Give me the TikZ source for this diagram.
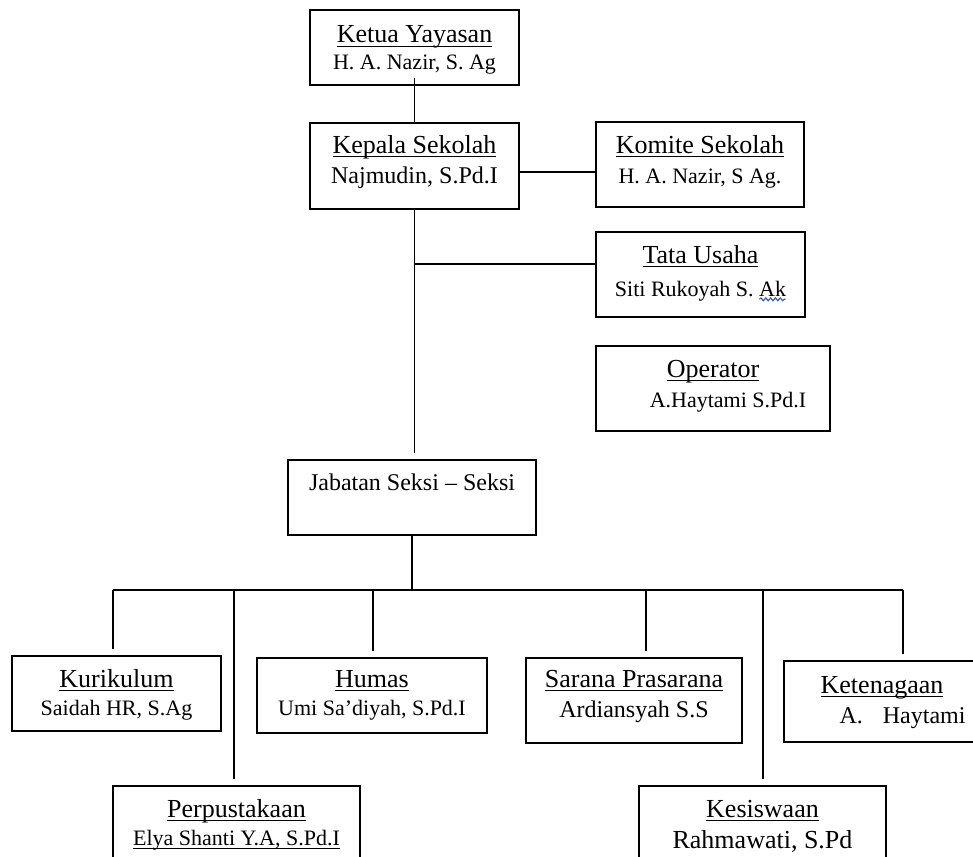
\documentclass[tikz,border=0pt]{standalone}
\usepackage{fontspec}
\setmainfont{Liberation Serif}
\usepackage{tikz}
\usetikzlibrary{positioning, calc, decorations.pathmorphing}
\definecolor{SpellBlue}{RGB}{60, 90, 200}
\newcommand{\undl}[1]{\leavevmode\setbox0\hbox{#1}\dp0=0pt\vtop{\box0\kern1.6pt\hrule height0.6pt}}
\newcommand{\nm}[1]{{\fontsize{11}{13}\selectfont #1}}
\newcommand{\nmb}[1]{{\fontsize{12}{14}\selectfont #1}}
\tikzset{
  lead/.style={font=\fontsize{13}{#1}\selectfont},
  unit/.style={rectangle, draw, line width=0.9pt, fill=white, align=center,
    inner xsep=2pt, inner ysep=0pt, text height=30.5pt, text depth=12pt, lead=15pt},
  short/.style={unit, text height=29.5pt, text depth=8pt, lead=14pt},
  link/.style={line width=0.9pt},
  drop/.style={link, shorten >=3pt},
  spell/.style={SpellBlue, line width=0.6pt, decorate,
    decoration={snake, amplitude=0.7pt, segment length=2.4pt}},
}

\begin{document}
\begin{tikzpicture}[x=0.5pt, y=-0.5pt]
    \useasboundingbox (0,0) rectangle (973,856);
    \clip (0,0) rectangle (973,856);
    \node[short, minimum width=104.5pt, text height=30pt, text depth=7.5pt, lead=13.5pt] (ketua) at (414.5,47.5) {\undl{Ketua Yayasan}\\\nm{H. A. Nazir, S. Ag}};
    \node[unit, minimum width=104.5pt, text height=30pt, text depth=13pt] (kepala) at (414.5,166) {\undl{Kepala Sekolah}\\\nmb{Najmudin, S.Pd.I}};
    \node[unit, minimum width=104pt] (komite) at (700,164.5) {\undl{Komite Sekolah}\\\nm{H. A. Nazir, S Ag.}};
    \node[unit, minimum width=104.5pt, text height=32pt, text depth=10.5pt, lead=16.5pt] (tata) at (700.5,274.5) {\undl{Tata Usaha}\\\nm{Siti Rukoyah S. Ak}};
    \node[unit, minimum width=117pt] (oper) at (713,388.5) {\undl{Operator}\\\nm{\hspace*{15pt}A.Haytami S.Pd.I}};
    \node[unit, minimum width=124pt, text height=15pt, text depth=22.5pt, font=\fontsize{12}{14}\selectfont] (jab) at (412,497.5) {Jabatan Seksi – Seksi};
    \node[short, minimum width=104.5pt] (kur) at (116.5,693.5) {\undl{Kurikulum}\\\nm{Saidah HR, S.Ag}};
    \node[short, minimum width=115pt, text height=28.5pt, text depth=9pt] (humas) at (372,695.5) {\undl{Humas}\\\nm{Umi Sa’diyah, S.Pd.I}};
    \node[unit, minimum width=108pt, text height=29.5pt, text depth=13pt] (sarana) at (634,700.5) {\undl{Sarana Prasarana}\\\nmb{Ardiansyah S.S}};
    \node[unit, minimum width=98pt, text height=31pt, text depth=9.5pt] (keten) at (882,701.5) {\undl{Ketenagaan}\\\nmb{\hspace*{20.5pt}A.\hspace{10pt}Haytami}};
    \node[unit, minimum width=123.5pt, text height=29.5pt, text depth=13pt, lead=14pt] (perp) at (236.5,828.5) {\undl{Perpustakaan}\\\nm{\undl{Elya Shanti Y.A, S.Pd.I}}};
    \node[unit, minimum width=123.5pt, text height=31pt, text depth=11.5pt, lead=15.5pt] (kes) at (762.5,828.5) {\undl{Kesiswaan}\\Rahmawati, S.Pd};
    \draw[spell] ($(tata.center)+(29.5pt,-12.4pt)$) -- ++(13pt,0pt);
    \draw[link] ([yshift=4pt]ketua.south) -- (kepala.north);
    \draw[link] ([yshift=-3pt]kepala.east) -- ([yshift=-3pt]kepala.east -| komite.west);
    \draw[drop] (kepala.south) -- (kepala.south |- jab.north);
    \coordinate (tu) at (kepala.south |- 0,264);
    \draw[link] (tu) -- (tu -| tata.west);
    \coordinate (bus) at (jab.south |- 0,590);
    \draw[link] (jab.south) -- (bus);
    \coordinate (d1) at (113,590); \coordinate (d2) at (234,590);
    \coordinate (d3) at (373,590); \coordinate (d4) at (646,590);
    \coordinate (d5) at (763,590); \coordinate (d6) at (903,590);
    \draw[link] (d1) -- (d6);
    \draw[drop] (d1) -- (d1 |- kur.north);
    \draw[drop] (d2) -- (d2 |- perp.north);
    \draw[drop] (d3) -- (d3 |- humas.north);
    \draw[drop] (d4) -- (d4 |- sarana.north);
    \draw[drop] (d5) -- (d5 |- kes.north);
    \draw[drop] (d6) -- (d6 |- keten.north);
\end{tikzpicture}
\end{document}
